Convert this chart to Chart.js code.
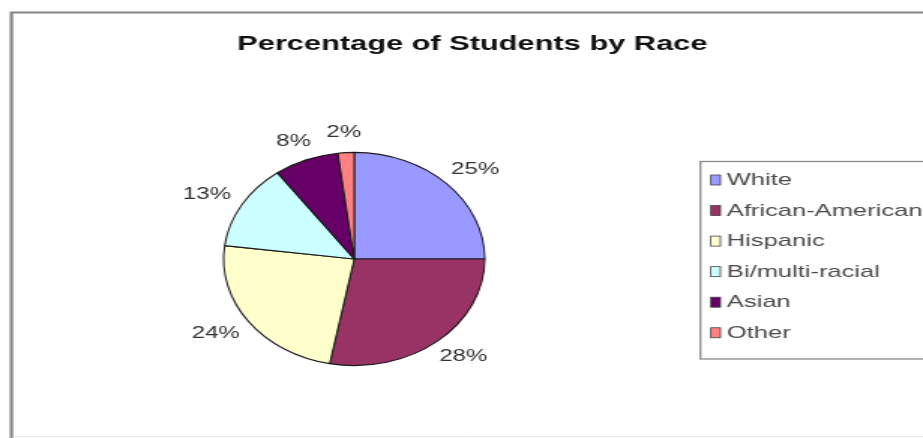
<!DOCTYPE html>
<html>
<head>
<meta charset="utf-8">
<script src="https://cdn.jsdelivr.net/npm/chart.js@4"></script>
<style>
html, body { margin: 0; padding: 0; background: #fff; overflow: hidden; }
#wrap { width: 923px; height: 438px; position: relative; overflow: hidden; background: #fff; }
/* the drawing is laid out on a narrower canvas and widened to the page */
#c { position: absolute; left: 0; top: 0; transform-origin: 0 0; transform: scaleX(1.5008); }
</style>
</head>
<body>
<div id="wrap"><canvas id="c" width="615" height="438" style="width:615px;height:438px"></canvas></div>
<script>
// Student body by race, in percent
const categories = ['White', 'African-American', 'Hispanic', 'Bi/multi-racial', 'Asian', 'Other'];
const percentages = [25, 28, 24, 13, 8, 2];
const sliceColors = ['#9999FF', '#993366', '#FFFFCC', '#CCFFFF', '#660066', '#FF8080'];
const chartTitle = 'Percentage of Students by Race';

const FONT = '"Liberation Sans", Arial, Helvetica, sans-serif';
const SQUASH = 1.225; // vertical stretch that turns the round pie into an oval

// white page, grey outer frame
const framePlugin = {
  id: 'frame',
  beforeDraw(chart) {
    const ctx = chart.ctx;
    ctx.save();
    ctx.fillStyle = '#ffffff';
    ctx.fillRect(0, 0, chart.width, chart.height);
    ctx.strokeStyle = '#858585';
    ctx.lineWidth = 2.2;
    ctx.beginPath();
    ctx.moveTo(700, 12.5); ctx.lineTo(7.6, 12.5); ctx.lineTo(7.6, 445);
    ctx.stroke();
    ctx.strokeStyle = '#e4e4e4';
    ctx.lineWidth = 1;
    ctx.beginPath();
    ctx.moveTo(8.5, 436.5); ctx.lineTo(700, 436.5);
    ctx.stroke();
    ctx.restore();
  },
  afterDraw(chart) {
    const ctx = chart.ctx;
    ctx.save();
    ctx.fillStyle = '#111';
    ctx.font = 'bold 20.5px ' + FONT;
    ctx.textAlign = 'center';
    ctx.textBaseline = 'alphabetic';
    ctx.fillText(chartTitle, 314.7, 50);
    ctx.restore();
  }
};

// oval pie plus outside percentage labels
const ovalPlugin = {
  id: 'oval',
  beforeDatasetsDraw(chart) {
    const arc = chart.getDatasetMeta(0).data[0];
    const ctx = chart.ctx;
    ctx.save();
    ctx.translate(arc.x, arc.y);
    ctx.scale(1, SQUASH);
    ctx.translate(-arc.x, -arc.y);
  },
  afterDatasetsDraw(chart) {
    const ctx = chart.ctx;
    ctx.restore();
    const meta = chart.getDatasetMeta(0);
    const values = chart.data.datasets[0].data;
    ctx.save();
    ctx.font = '16px ' + FONT;
    ctx.fillStyle = '#333';
    ctx.textAlign = 'center';
    ctx.textBaseline = 'middle';
    meta.data.forEach((arc, i) => {
      const mid = (arc.startAngle + arc.endAngle) / 2;
      const dx = Math.cos(mid), dy = Math.sin(mid);
      const r = arc.outerRadius;
      const text = values[i] + '%';
      const w = ctx.measureText(text).width;
      const h = 12;
      const ex = arc.x + r * dx, ey = arc.y + r * SQUASH * dy;
      const lx = ex + dx * (w / 2 + 11);
      const ly = ey + dy * (h / 2 + 14);
      ctx.fillText(text, lx, ly);
    });
    ctx.restore();
  }
};

// boxed legend on the right
const legendPlugin = {
  id: 'boxLegend',
  afterDraw(chart) {
    const ctx = chart.ctx;
    const ds = chart.data.datasets[0];
    ctx.save();
    ctx.strokeStyle = '#8a8a8a';
    ctx.lineWidth = 1.3;
    ctx.strokeRect(466.7, 161.5, 200, 197.5);
    ctx.font = '17px ' + FONT;
    ctx.textBaseline = 'middle';
    ctx.textAlign = 'left';
    chart.data.labels.forEach((label, i) => {
      const y = 180 + i * 30.55;
      ctx.fillStyle = ds.backgroundColor[i];
      ctx.fillRect(473.6, y - 5, 6.4, 10);
      ctx.strokeStyle = '#444';
      ctx.lineWidth = 0.8;
      ctx.strokeRect(473.6, y - 5, 6.4, 10);
      ctx.fillStyle = '#4a4a4a';
      ctx.fillText(label, 484.3, y + 0.5);
    });
    ctx.restore();
  }
};

new Chart(document.getElementById('c'), {
  type: 'pie',
  data: {
    labels: categories,
    datasets: [{
      data: percentages,
      backgroundColor: sliceColors,
      borderColor: '#1a1a1a',
      borderWidth: 1,
      radius: 87
    }]
  },
  options: {
    responsive: false,
    animation: false,
    events: [],
    layout: { padding: { left: 100, right: 243, top: 130, bottom: 50 } },
    plugins: {
      legend: { display: false },
      title: { display: false },
      tooltip: { enabled: false }
    }
  },
  plugins: [framePlugin, ovalPlugin, legendPlugin]
});
</script>
</body>
</html>
